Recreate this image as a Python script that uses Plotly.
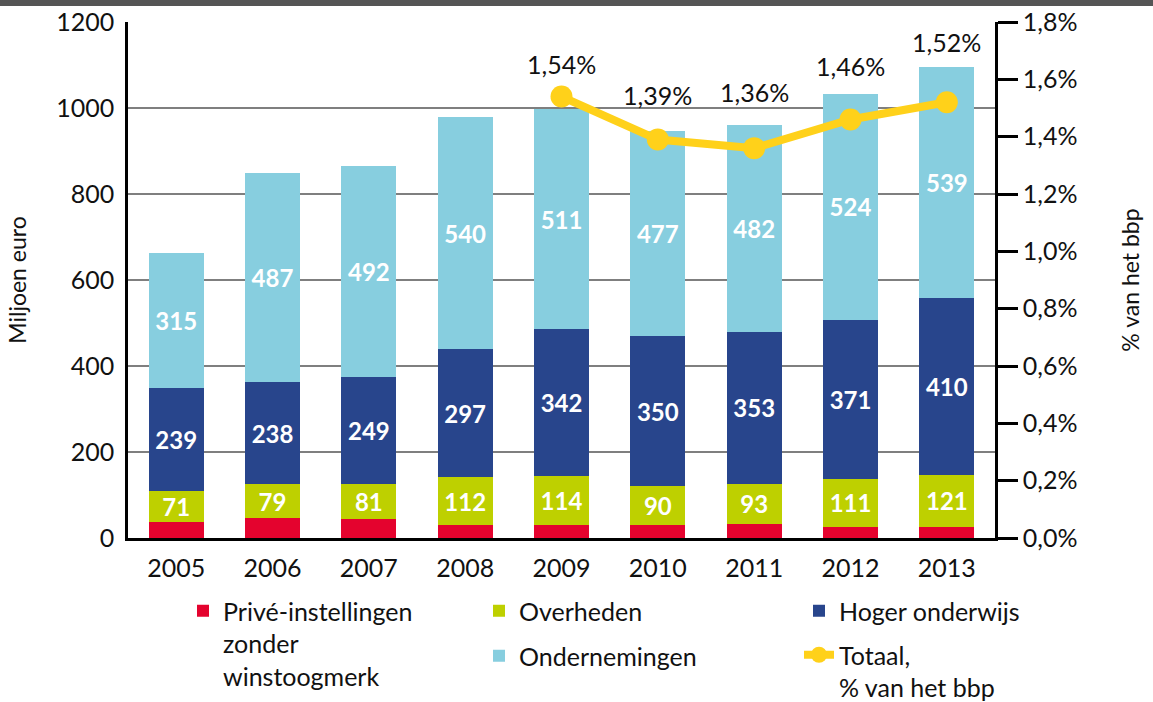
import plotly.graph_objects as go

years = ["2005", "2006", "2007", "2008", "2009", "2010", "2011", "2012", "2013"]
prive = [38, 46, 44, 30, 30, 30, 33, 26, 26]
overheden = [71, 79, 81, 112, 114, 90, 93, 111, 121]
hoger = [239, 238, 249, 297, 342, 350, 353, 371, 410]
ondernemingen = [315, 487, 492, 540, 511, 477, 482, 524, 539]
pct_bbp = [None, None, None, None, 1.54, 1.39, 1.36, 1.46, 1.52]

# style: vertical pixel offset of each percentage label above its marker
label_shift = [0, 0, 0, 0, 33, 45, 56, 53, 60]

FONT = "Lato, Open Sans, sans-serif"
L, R, T, B = 128, 995, 22, 538
W, H = 1153, 702


def px_x(px):
    return (px - L) / (R - L)


def px_y(py):
    return (B - py) / (B - T)


fig = go.Figure()
lab_font = dict(family=FONT, size=24, color="white")
bar_specs = [
    ("Privé-instellingen<br>zonder<br>winstoogmerk", prive, "#E4032E", False, "legend"),
    ("Overheden", overheden, "#BED000", True, "legend2"),
    ("Hoger onderwijs", hoger, "#28458C", True, "legend3"),
    ("Ondernemingen", ondernemingen, "#87CEDF", True, "legend4"),
]
for name, vals, col, show_text, lg in bar_specs:
    fig.add_trace(go.Bar(
        x=years, y=vals, name=name, marker=dict(color=col, line=dict(width=0)),
        text=vals if show_text else None,
        texttemplate="<b>%{y}</b>" if show_text else None,
        textposition="inside" if show_text else "none",
        insidetextanchor="middle", textangle=0,
        insidetextfont=lab_font, legend=lg, yaxis="y",
    ))

fig.add_trace(go.Scatter(
    x=years, y=pct_bbp, name="Totaal,<br>% van het bbp", yaxis="y2",
    mode="lines+markers", connectgaps=False,
    line=dict(color="#FFD11A", width=8),
    marker=dict(color="#FFD11A", size=22),
    legend="legend5",
))

annotations = []
for i, (v, sh) in enumerate(zip(pct_bbp, label_shift)):
    if v is None:
        continue
    annotations.append(dict(
        x=i, y=v, xref="x", yref="y2", showarrow=False, yshift=sh,
        text=f"{v:.2f}%".replace(".", ","), yanchor="middle",
        font=dict(family=FONT, size=25, color="#111111"),
    ))

tick_font = dict(family=FONT, size=25, color="#111111")

legend_common = dict(
    font=dict(family=FONT, size=25, color="#111111"),
    bgcolor="rgba(0,0,0,0)", borderwidth=0, valign="top",
    xanchor="left", yanchor="top", itemclick=False, itemdoubleclick=False,
)

fig.update_layout(
    width=W, height=H,
    margin=dict(l=L, r=W - R, t=T, b=H - B, autoexpand=False),
    barmode="stack", bargap=0.43,
    plot_bgcolor="white", paper_bgcolor="white",
    separators=",.",
    showlegend=True,
    font=dict(family=FONT, color="#111111"),
    xaxis=dict(
        type="category", categoryorder="array", categoryarray=years,
        showline=True, linecolor="black", linewidth=2.5,
        ticks="", tickfont=tick_font, showgrid=False, range=[-0.5, 8.5],
        ticklabelstandoff=6,
    ),
    yaxis=dict(
        range=[0, 1200], dtick=200, tickformat="d", showgrid=True,
        gridcolor="#7F7F7F", gridwidth=1.5, zeroline=False,
        showline=True, linecolor="black", linewidth=2.5, ticks="",
        tickfont=tick_font, ticklabelstandoff=6,
        title=dict(text="Miljoen euro", font=dict(family=FONT, size=23, color="#111111"), standoff=24),
    ),
    yaxis2=dict(
        overlaying="y", side="right", range=[0, 1.8], dtick=0.2,
        tickformat=".1f", ticksuffix="%", showgrid=False, zeroline=False,
        showline=True, linecolor="black", linewidth=2.5,
        ticks="outside", ticklen=20, tickwidth=2.5, tickcolor="black",
        tickfont=tick_font,
        title=dict(text="% van het bbp", font=dict(family=FONT, size=23, color="#111111"), standoff=47),
    ),
    annotations=annotations,
    legend=dict(x=px_x(183), y=px_y(588), **legend_common),
    legend2=dict(x=px_x(479), y=px_y(588), **legend_common),
    legend3=dict(x=px_x(799), y=px_y(588), **legend_common),
    legend4=dict(x=px_x(479), y=px_y(633), **legend_common),
    legend5=dict(x=px_x(799), y=px_y(632), **legend_common),
    uniformtext=dict(minsize=24, mode="show"),
    shapes=[dict(type="rect", xref="paper", yref="paper",
                 x0=-L / (R - L), x1=(W - L) / (R - L),
                 y0=px_y(6), y1=px_y(0) + 0.01,
                 fillcolor="#555555", line=dict(width=0), layer="above")],
)

fig.write_html("out.html", config={"displayModeBar": False},
               post_script="document.body.style.margin='0';")
